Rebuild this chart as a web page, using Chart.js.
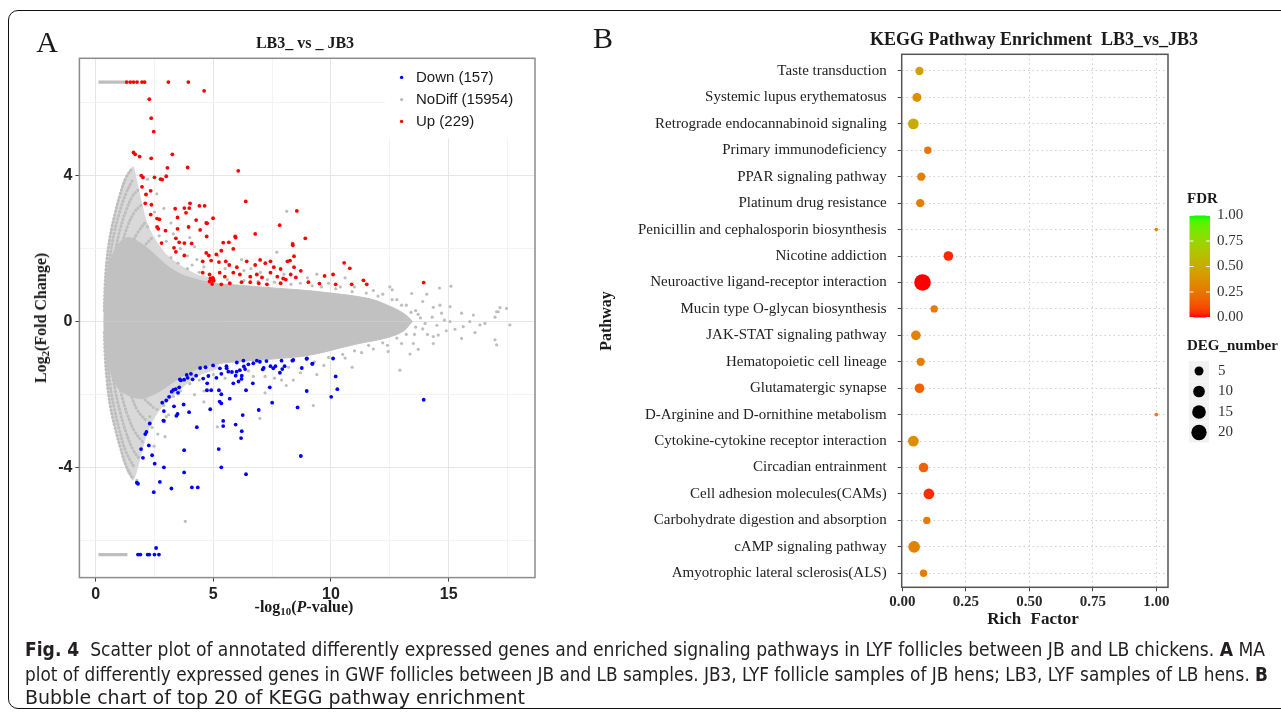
<!DOCTYPE html>
<html>
<head>
<meta charset="utf-8">
<script src="https://cdn.jsdelivr.net/npm/chart.js@4.4.1/dist/chart.umd.min.js"></script>
<style>
  body { margin: 0; background: #fff; }
  #page { position: relative; width: 1281px; height: 717px; overflow: hidden; font-family: "Liberation Serif", "Times New Roman", serif; color: #1a1a1a; }
  #frame { position: absolute; left: 8px; top: 10px; width: 1300px; height: 699px; border: 1px solid #111; border-radius: 10px; box-sizing: border-box; }
  canvas { position: absolute; }
  .lbl { position: absolute; white-space: nowrap; transform: translate(-50%, -50%); line-height: 1; }
  .rot { transform: translate(-50%, -50%) rotate(-90deg); }
  .b { font-weight: bold; }
  sub { font-size: 0.68em; vertical-align: -0.3em; line-height: 0; }
  .cap { position: absolute; left: 25px; white-space: nowrap; transform-origin: 0 50%; font-family: "Liberation Sans Narrow", "DejaVu Sans Condensed", "Liberation Sans", sans-serif; font-size: 20px; line-height: 22px; color: #231f20; }
</style>
</head>
<body>
<div id="page">
  <div id="frame"></div>
  <canvas id="chartA" width="545" height="640" style="left:0;top:0"></canvas>
  <canvas id="chartB" width="691" height="640" style="left:590px;top:0"></canvas>

  <div class="lbl" style="left:47px;top:42px;font-size:30px;">A</div>
  <div class="lbl b" style="left:305px;top:43px;font-size:16px;">LB3_ vs _ JB3</div>
  <div class="lbl b rot" style="left:41px;top:318px;font-size:16px;">Log<sub>2</sub>(Fold Change)</div>
  <div class="lbl b" style="left:304px;top:607px;font-size:16px;">-log<sub>10</sub>(<i>P</i>-value)</div>

  <div class="lbl" style="left:603px;top:38px;font-size:30px;">B</div>
  <div class="lbl b" style="left:1034px;top:39px;font-size:18px;">KEGG Pathway Enrichment&nbsp; LB3_vs_JB3</div>
  <div class="lbl b rot" style="left:606px;top:321px;font-size:16px;">Pathway</div>
  <div class="lbl b" style="left:1033px;top:618px;font-size:17px;word-spacing:5px;">Rich Factor</div>

  <div class="cap" id="cap1" style="top:638px;"><b>Fig. 4</b>&nbsp; Scatter plot of annotated differently expressed genes and enriched signaling pathways in LYF follicles between JB and LB chickens. <b>A</b> MA</div>
  <div class="cap" id="cap2" style="top:663px;">plot of differently expressed genes in GWF follicles between JB and LB samples. JB3, LYF follicle samples of JB hens; LB3, LYF samples of LB hens. <b>B</b></div>
  <div class="cap" id="cap3" style="top:686px;">Bubble chart of top 20 of KEGG pathway enrichment</div>
</div>

<script>
// ---------- panel A: volcano / MA plot data (x = -log10 P, y = log2 FC) ----------
const legendCounts = { down: 157, noDiff: 15954, up: 229 }

const upPts = [
  [1.32,6.56],[1.47,6.56],[1.61,6.56],[1.76,6.56],[1.97,6.56],[2.08,6.56],[3.09,6.56],[3.94,6.56],[4.61,6.32],
  [2.28,6.09],[2.36,5.57],[2.47,5.2],[1.61,4.63],[1.68,4.58],[1.87,4.52],[2.36,4.47],[3.26,4.58],[3.91,4.22],[3.05,4.21],
  [1.94,4.0],[2.01,3.95],[2.5,3.95],[2.76,3.9],[2.83,3.89],[3.0,3.98],[6.06,4.13],[1.97,3.69],[2.14,3.48],[2.34,3.58],
  [2.11,3.24],[2.37,3.2],[2.34,2.93],[6.38,3.29],[3.38,3.09],[3.77,3.11],[4.01,3.24],[3.98,3.11],[4.41,3.17],[4.63,3.17],[8.55,3.03],
  [2.61,2.82],[2.71,2.8],[3.48,2.85],[3.84,2.98],[4.27,2.78],[4.99,2.83],[2.61,2.59],[2.66,2.54],[2.97,2.49],[3.48,2.54],
  [3.95,2.59],[4.44,2.51],[4.7,2.7],[4.74,2.69],[4.72,2.33],[6.78,2.4],[7.82,2.64],[8.91,2.28],[5.93,2.33],[5.42,2.16],
  [2.8,2.15],[3.41,2.28],[3.55,2.17],[3.77,2.15],[4.08,2.14],[5.66,2.17],[5.95,2.3],[8.38,2.09],[8.37,2.13],
  [3.33,2.02],[3.41,1.91],[3.77,1.81],[4.7,1.88],[4.81,1.81],[5.13,1.84],[5.34,1.94],[5.85,1.99],[8.43,1.79],[8.15,1.65],
  [4.55,1.65],[4.91,1.67],[5.24,1.63],[5.53,1.65],[5.68,1.55],[6.0,1.49],[6.42,1.65],[6.78,1.55],[6.99,1.69],[7.21,1.6],
  [7.43,1.65],[7.57,1.49],[7.86,1.44],[8.26,1.67],[8.43,1.49],[8.72,1.39],[10.56,1.61],[10.8,1.46],
  [4.55,1.34],[4.84,1.29],[4.99,1.18],[5.27,1.34],[5.49,1.23],[5.85,1.34],[6.13,1.29],[6.57,1.23],[6.85,1.29],[7.07,1.21],
  [7.43,1.34],[7.72,1.23],[7.97,1.18],[8.29,1.29],[8.51,1.21],[4.84,1.1],[4.95,1.03],[5.34,1.02],[5.7,1.05],[6.2,1.08],
  [6.57,1.08],[6.93,1.05],[7.28,1.02],[7.86,1.05],[8.08,1.15],[9.04,1.08],[9.51,1.04],[9.73,1.25],[10.09,1.29],[10.2,1.02],
  [10.88,1.02],[11.38,1.13],[11.52,1.02],[13.94,1.07],[4.88,1.18],[4.92,1.14],[4.97,1.2],[5.02,1.12]
]

const downPts = [
  [1.8,-6.38],[1.9,-6.38],[2.21,-6.38],[2.28,-6.38],[2.5,-6.38],[2.69,-6.38],[2.57,-6.2],
  [1.8,-4.44],[1.75,-4.41],[2.47,-4.67],[2.73,-4.39],[3.22,-4.57],[4.09,-4.54],[4.34,-4.54],[3.76,-4.13],[6.39,-4.18],[8.72,-3.68],
  [2.9,-3.99],[2.51,-3.89],[2.01,-3.73],[2.4,-3.66],[2.26,-3.39],[1.93,-3.49],[2.11,-3.08],[2.16,-3.02],[2.3,-2.79],[2.9,-2.72],
  [3.76,-3.52],[4.3,-2.89],[5.23,-3.49],[5.34,-3.99],[5.42,-2.72],[5.42,-2.86],[5.95,-2.82],[6.25,-2.56],[6.21,-3.0],[6.18,-3.19],
  [6.93,-2.42],[8.58,-2.35],[13.94,-2.14],[10.01,-2.06],[10.2,-1.5],[10.27,-1.85],[10.09,-1.01],[8.97,-1.9],
  [2.83,-2.22],[3.0,-2.16],[3.12,-2.06],[3.33,-2.32],[3.48,-2.53],[3.43,-2.58],[3.97,-2.48],[3.74,-2.27],[2.88,-2.71],[2.9,-2.45],
  [3.4,-1.85],[3.55,-1.8],[3.5,-1.95],[3.62,-1.61],[3.76,-1.59],[3.91,-1.54],[4.05,-1.43],[4.27,-1.48],[3.23,-1.92],[3.3,-1.87],
  [4.44,-1.27],[4.67,-1.25],[4.99,-1.2],[4.74,-1.69],[4.73,-1.88],[4.91,-1.88],[5.24,-1.88],[5.34,-1.99],[4.57,-1.56],[4.79,-1.49],
  [4.87,-2.4],[5.27,-2.19],[5.34,-2.24],[5.13,-1.54],[5.34,-1.43],[5.56,-1.22],[5.79,-1.38],[5.28,-1.28],[5.57,-1.28],[5.64,-1.37],
  [5.7,-2.11],[5.85,-1.69],[5.95,-1.48],[6.0,-1.12],[6.28,-1.07],[6.49,-1.17],[6.3,-1.23],[6.35,-1.3],[5.99,-1.37],[6.13,-1.33],
  [6.07,-1.64],[6.21,-1.48],[6.39,-1.88],[6.68,-1.69],[6.85,-1.07],[7.14,-1.27],[7.43,-1.22],[7.64,-1.22],[7.93,-1.3],[6.2,-1.57],
  [7.4,-1.8],[7.5,-2.22],[7.83,-1.4],[8.03,-1.22],[8.36,-1.07],[8.76,-1.27],[8.98,-1.01],[9.22,-1.15],[6.7,-1.14],[6.98,-1.1],
  [7.26,-1.08],[7.55,-1.28],[7.9,-1.07],[8.4,-1.05],[8.96,-1.02],[9.2,-1.16],[3.58,-1.58],[3.87,-1.46],[4.12,-1.58],[7.1,-1.31]
]

// scattered grey genes outside the dense cloud
const grayPts = [
  [15.06,0.41],[15.55,0.23],[16.05,0.18],[16.33,-0.09],[16.54,-0.05],[16.97,0.12],[17.04,0.27],[17.46,0.36],[17.6,-0.09],[15.06,0.0],
  [15.27,-0.21],[15.55,-0.46],[16.12,-0.3],[16.97,-0.5],[17.04,-0.64],[14.35,-0.6],[13.36,-0.89],[12.43,-0.82],[12.93,-1.33],[13.71,-0.76],
  [14.35,-0.41],[14.56,-0.37],[13.5,-0.6],[15.1,0.97],[14.07,0.75],[13.43,0.77],[14.63,0.45],[14.7,0.23],[14.35,0.39],[14.82,0.04],
  [14.61,0.92],[12.6,0.87],[17.18,0.38],[17.11,0.27],[15.9,0.0],[15.62,-0.14],[13.6,0.3],[13.8,0.1],[13.9,-0.2],[14.1,-0.35],
  [14.3,0.12],[14.5,-0.1],[13.55,-0.35],[13.2,0.45],[13.9,0.55],[14.9,-0.25],[13.0,-0.6],[12.8,0.6],[13.7,0.2],[14.0,-0.05],
  [13.4,0.25],[13.6,-0.15],[6.6,1.45],[7.3,1.15],[9.4,1.3],[9.9,1.05],[10.4,0.95],[11.0,0.95],[11.8,0.85],[12.2,0.75],
  [10.6,1.2],[12.5,0.95],[9.2,0.98],[8.7,1.05],[8.12,3.02],[2.9,3.1],[2.2,3.9],[2.6,3.5],[4.0,2.3],[5.2,1.8],
  [6.2,1.7],[3.6,2.0],[4.3,1.7],[7.7,1.9],[9.7,-1.2],[10.6,-1.0],[11.3,-0.85],[11.8,-0.75],[12.4,-0.65],[10.9,-1.25],
  [9.4,-1.45],[8.4,-1.6],[7.6,-1.55],[9.25,-2.3],[6.98,-2.65],[5.17,-2.88],[2.95,-3.15],[2.64,-3.08],[3.81,-5.47],[7.2,-1.95],
  [8.1,-1.75],[4.2,-2.0],[4.6,-2.2],[3.0,-2.6],[2.4,-2.9],[2.48,-3.41],[1.75,-4.35],
  [3.2,1.75],[3.5,1.6],[3.9,1.45],[4.1,1.55],[4.4,1.35],[5.6,1.15],[6.3,1.12],[6.9,1.1],[7.6,1.08],[8.3,1.02],
  [9.6,0.95],[10.2,0.9],[10.9,0.82],[11.5,0.78],[12.0,0.7],[12.6,0.6],[13.0,0.45],[3.0,2.2],[3.3,2.4],[2.7,2.35],
  [3.9,1.8],[4.6,1.5],[5.5,1.45],[6.3,1.4],[7.0,1.35],[8.0,1.3],[9.0,1.2],[2.2,2.6],[2.5,3.0],[3.2,2.7],[4.2,2.05],
  [3.3,-2.05],[3.6,-1.9],[4.0,-1.7],[4.4,-1.6],[5.0,-1.45],[5.5,-1.55],[6.5,-1.35],[7.2,-1.5],[8.2,-1.25],[8.7,-1.4],
  [9.3,-1.1],[9.9,-0.98],[10.5,-0.9],[11.0,-0.8],[11.6,-0.65],[12.2,-0.58],[12.8,-0.45],[13.2,-0.35],[2.6,-2.4],[2.9,-2.3],
  [3.1,-2.55],[2.3,-2.6],[4.6,-1.9],[6.7,-1.5],[7.9,-1.6]
]

// genes capped at the top / bottom of the y range (grey run)
const capTop = [[0.12,6.56],[1.32,6.56]]
const capBottom = [[0.12,-6.38],[1.35,-6.38]]

// outline of the dense grey cloud (upper and lower edge)
const coreTop = [[0.35,0],[0.38,0.7],[0.5,1.3],[0.7,1.8],[1.0,2.15],[1.4,2.3],[1.9,2.15],[2.4,1.9],[3.0,1.55],[3.6,1.3],[4.3,1.15],[5.0,1.05],[6.0,1.0],[7.0,0.95],[8.0,0.9],[9.0,0.85],[10.0,0.78],[11.0,0.7],[11.8,0.6],[12.4,0.45],[12.9,0.3],[13.3,0.12],[13.45,0]]
const coreBottom = [[0.35,0],[0.38,-0.6],[0.5,-1.1],[0.7,-1.5],[1.0,-1.85],[1.5,-2.05],[2.0,-2.1],[2.6,-1.95],[3.2,-1.7],[3.8,-1.45],[4.5,-1.25],[5.2,-1.15],[6.0,-1.1],[7.0,-1.05],[8.0,-1.0],[8.8,-0.95],[9.6,-0.85],[10.4,-0.72],[11.2,-0.6],[12.0,-0.5],[12.6,-0.4],[13.1,-0.25],[13.45,0]]
// sparser wings at low -log10 P
const wingTop = [[0.36,0],[0.38,1.0],[0.45,1.7],[0.6,2.4],[0.8,3.0],[1.0,3.5],[1.2,3.9],[1.4,4.1],[1.6,4.25],[1.75,3.9],[1.95,3.3],[2.2,2.7],[2.5,2.3],[3.0,1.85],[3.6,1.55],[4.3,1.3],[5.0,1.15],[5.5,0]]
const wingBottom = [[0.36,0],[0.38,-0.9],[0.45,-1.6],[0.6,-2.3],[0.8,-2.9],[1.0,-3.4],[1.2,-3.9],[1.4,-4.2],[1.6,-4.35],[1.8,-4.0],[2.0,-3.5],[2.3,-2.9],[2.7,-2.45],[3.2,-2.1],[3.8,-1.75],[4.5,-1.45],[5.2,-1.25],[5.6,0]]
// the curved streaks of low-count genes
const streaks = [
  [[0.37,0.3],[0.4,1.0],[0.48,1.7],[0.62,2.35],[0.82,2.95],[1.05,3.5],[1.3,3.95],[1.55,4.2]],
  [[0.46,0.5],[0.51,1.15],[0.62,1.8],[0.8,2.45],[1.02,3.0],[1.28,3.5],[1.55,3.85]],
  [[0.6,0.6],[0.68,1.3],[0.84,1.95],[1.05,2.55],[1.3,3.05],[1.58,3.45],[1.8,3.6]],
  [[0.8,0.8],[0.9,1.45],[1.1,2.05],[1.35,2.6],[1.65,3.0],[1.95,3.2]],
  [[1.1,0.9],[1.25,1.5],[1.5,2.05],[1.8,2.45],[2.15,2.75]],
  [[1.5,1.0],[1.7,1.55],[2.0,2.0],[2.4,2.3]],
  [[0.37,-0.3],[0.4,-0.9],[0.48,-1.6],[0.62,-2.3],[0.82,-2.9],[1.05,-3.45],[1.3,-3.95],[1.58,-4.3]],
  [[0.46,-0.5],[0.51,-1.1],[0.62,-1.75],[0.8,-2.4],[1.02,-3.0],[1.28,-3.55],[1.6,-3.95]],
  [[0.6,-0.6],[0.68,-1.25],[0.84,-1.9],[1.05,-2.5],[1.3,-3.05],[1.58,-3.5],[1.85,-3.75]],
  [[0.8,-0.8],[0.9,-1.4],[1.1,-2.0],[1.35,-2.55],[1.65,-3.0],[2.0,-3.3]],
  [[1.1,-0.9],[1.25,-1.45],[1.5,-2.0],[1.8,-2.45],[2.2,-2.75]],
  [[1.5,-1.0],[1.7,-1.55],[2.0,-2.05],[2.45,-2.35]]
]

// ---------- panel B: KEGG enrichment (listed top to bottom) ----------
const pathways = ['Taste transduction','Systemic lupus erythematosus','Retrograde endocannabinoid signaling','Primary immunodeficiency',
  'PPAR signaling pathway','Platinum drug resistance','Penicillin and cephalosporin biosynthesis','Nicotine addiction',
  'Neuroactive ligand-receptor interaction','Mucin type O-glycan biosynthesis','JAK-STAT signaling pathway','Hematopoietic cell lineage',
  'Glutamatergic synapse','D-Arginine and D-ornithine metabolism','Cytokine-cytokine receptor interaction','Circadian entrainment',
  'Cell adhesion molecules(CAMs)','Carbohydrate digestion and absorption','cAMP signaling pathway','Amyotrophic lateral sclerosis(ALS)']
const richFactor = [0.067,0.057,0.043,0.100,0.074,0.070,1.000,0.181,0.079,0.125,0.053,0.072,0.067,1.000,0.043,0.083,0.104,0.096,0.046,0.083]
const degNumber = [4,5,8,3,4,4,1,6,24,3,6,4,6,1,8,6,8,3,10,3]
const fdr = [0.45,0.36,0.5,0.24,0.28,0.28,0.28,0.03,0.0,0.27,0.3,0.28,0.17,0.28,0.35,0.17,0.04,0.28,0.3,0.28]
const fdrBreaks = [0, 0.25, 0.5, 0.75, 1]
const degBreaks = [5, 10, 15, 20]

const upColor = '#ff0000', downColor = '#0000ff', grayColor = '#bebebe'
const serif = '"Liberation Serif", "Times New Roman", serif'
const sans = '"Liberation Sans", Arial, sans-serif'

const toXY = arr => arr.map(([x, y]) => ({ x, y }))

// red -> green in Lab space, like ggplot's gradient
function rgbToLab([r, g, b]) {
  const lin = c => { c /= 255; return c <= 0.04045 ? c / 12.92 : Math.pow((c + 0.055) / 1.055, 2.4) }
  const R = lin(r), G = lin(g), B = lin(b)
  const X = (0.4124564*R + 0.3575761*G + 0.1804375*B) / 0.95047
  const Y = 0.2126729*R + 0.7151522*G + 0.0721750*B
  const Z = (0.0193339*R + 0.1191920*G + 0.9503041*B) / 1.08883
  const f = t => t > 0.008856 ? Math.cbrt(t) : 7.787*t + 16/116
  return [116*f(Y) - 16, 500*(f(X) - f(Y)), 200*(f(Y) - f(Z))]
}
function labToRgb([L, a, b]) {
  const fy = (L + 16) / 116, fx = fy + a / 500, fz = fy - b / 200
  const inv = t => t*t*t > 0.008856 ? t*t*t : (t - 16/116) / 7.787
  const X = inv(fx)*0.95047, Y = inv(fy), Z = inv(fz)*1.08883
  const gam = c => { c = c <= 0.0031308 ? 12.92*c : 1.055*Math.pow(Math.max(c, 0), 1/2.4) - 0.055; return Math.round(Math.min(1, Math.max(0, c))*255) }
  const R = 3.2404542*X - 1.5371385*Y - 0.4985314*Z
  const G = -0.9692660*X + 1.8760108*Y + 0.0415560*Z
  const B = 0.0556434*X - 0.2040259*Y + 1.0572252*Z
  return `rgb(${gam(R)},${gam(G)},${gam(B)})`
}
const labLow = rgbToLab([255, 0, 0]), labHigh = rgbToLab([0, 255, 0])
const fdrColor = v => labToRgb(labLow.map((c, i) => c + (labHigh[i] - c) * v))
const bubbleRadius = n => 1.8 + 1.35 * Math.sqrt(n - 1)

Chart.defaults.font.family = sans

// ---------------- panel A ----------------
const isMajor = (v, step) => Math.abs(v % step) < 1e-9

const panelAExtras = {
  id: 'panelAExtras',
  afterDatasetsDraw(chart) {
    const { ctx, chartArea: a } = chart
    ctx.save()
    ctx.fillStyle = '#fff'
    ctx.fillRect(385, a.top, a.right - 385, 138.6 - a.top)
    const items = [[`Down (${legendCounts.down})`, downColor, 77.4], [`NoDiff (${legendCounts.noDiff})`, grayColor, 99.6], [`Up (${legendCounts.up})`, upColor, 121.4]]
    ctx.font = '15px ' + sans
    ctx.textBaseline = 'middle'
    items.forEach(([t, c, y]) => {
      ctx.fillStyle = c
      ctx.beginPath(); ctx.arc(401.6, y, 1.7, 0, Math.PI * 2); ctx.fill()
      ctx.fillStyle = '#1a1a1a'
      ctx.fillText(t, 416, y)
    })
    ctx.restore()
  },
  afterDraw(chart) {
    const { ctx, chartArea: a } = chart
    ctx.save()
    ctx.strokeStyle = '#8c8c8c'
    ctx.lineWidth = 1.5
    ctx.strokeRect(a.left, a.top, a.right - a.left, a.bottom - a.top)
    ctx.restore()
  }
}

const lineDs = (pts, extra) => Object.assign({ type: 'line', data: toXY(pts), pointRadius: 0, borderColor: grayColor, borderWidth: 0, fill: false, tension: 0.3 }, extra)

const chartA = new Chart(document.getElementById('chartA'), {
  type: 'scatter',
  data: {
    datasets: [
      { data: toXY(upPts), pointRadius: 1.9, pointBackgroundColor: upColor, pointBorderWidth: 0 },
      { data: toXY(downPts), pointRadius: 1.9, pointBackgroundColor: downColor, pointBorderWidth: 0 },
      { data: toXY(grayPts), pointRadius: 1.6, pointBackgroundColor: grayColor, pointBorderWidth: 0 },
      lineDs(capTop, { borderWidth: 3.2, tension: 0 }),
      lineDs(capBottom, { borderWidth: 3.2, tension: 0 }),
      lineDs(coreTop, { fill: 'origin', backgroundColor: '#c1c1c1', borderColor: '#c1c1c1', borderWidth: 1 }),
      lineDs(coreBottom, { fill: 'origin', backgroundColor: '#c1c1c1', borderColor: '#c1c1c1', borderWidth: 1 }),
      ...streaks.map(s => lineDs(s, { borderWidth: 3, borderDash: [0.5, 3.2], borderCapStyle: 'round', tension: 0.4 })),
      lineDs(wingTop, { fill: 'origin', backgroundColor: '#d9d9d9' }),
      lineDs(wingBottom, { fill: 'origin', backgroundColor: '#d9d9d9' })
    ]
  },
  options: {
    responsive: false, animation: false, events: [],
    layout: { padding: { top: 58.3, right: 10, left: 0, bottom: 0 } },
    plugins: { legend: { display: false }, tooltip: { enabled: false } },
    scales: {
      x: {
        type: 'linear', min: -0.69, max: 18.67,
        afterFit: s => { s.height = 62.4 },
        border: { display: false },
        grid: {
          color: c => isMajor(c.tick.value, 5) ? '#e6e6e6' : '#f3f3f3',
          tickColor: c => isMajor(c.tick.value, 5) ? '#444' : 'rgba(0,0,0,0)',
          tickLength: 4
        },
        ticks: { stepSize: 2.5, includeBounds: false, autoSkip: false, maxRotation: 0, padding: 3, color: '#222',
          font: { family: sans, size: 16, weight: 'bold' }, callback: v => isMajor(v, 5) ? String(v) : '' }
      },
      y: {
        type: 'linear', min: -7.01, max: 7.21,
        afterFit: s => { s.width = 79.4 },
        border: { display: false },
        grid: {
          color: c => isMajor(c.tick.value, 4) ? '#e6e6e6' : '#f3f3f3',
          tickColor: c => isMajor(c.tick.value, 4) ? '#444' : 'rgba(0,0,0,0)',
          tickLength: 4
        },
        ticks: { stepSize: 2, includeBounds: false, autoSkip: false, padding: 3, color: '#222',
          font: { family: sans, size: 16, weight: 'bold' }, callback: v => isMajor(v, 4) ? String(v) : '' }
      }
    }
  },
  plugins: [panelAExtras]
})

// ---------------- panel B ----------------
const panelBExtras = {
  id: 'panelBExtras',
  afterDraw(chart) {
    const { ctx, chartArea: a } = chart
    ctx.save()
    ctx.strokeStyle = '#555'
    ctx.lineWidth = 1.5
    ctx.strokeRect(a.left, a.top, a.right - a.left, a.bottom - a.top)

    // FDR colour bar
    const bx0 = 599.5, bx1 = 620, byTop = 215.5, byBot = 317.5
    const grad = ctx.createLinearGradient(0, byBot, 0, byTop)
    for (let i = 0; i <= 20; i++) grad.addColorStop(i / 20, fdrColor(i / 20))
    ctx.fillStyle = grad
    ctx.fillRect(bx0, byTop, bx1 - bx0, byBot - byTop)
    ctx.font = 'bold 15px ' + serif
    ctx.fillStyle = '#1a1a1a'
    ctx.textBaseline = 'middle'
    ctx.fillText('FDR', 597, 199)
    ctx.font = '15px ' + serif
    ctx.fillStyle = '#333'
    ctx.strokeStyle = '#fff'
    ctx.lineWidth = 1
    fdrBreaks.forEach(v => {
      const y = byBot - (byBot - byTop) * v
      ctx.beginPath()
      ctx.moveTo(bx0, y); ctx.lineTo(bx0 + 4, y)
      ctx.moveTo(bx1 - 4, y); ctx.lineTo(bx1, y)
      ctx.stroke()
      ctx.fillText(v.toFixed(2), 627, y)
    })

    // DEG_number size legend
    ctx.font = 'bold 15px ' + serif
    ctx.fillStyle = '#1a1a1a'
    ctx.fillText('DEG_number', 597, 346)
    const keyY = [371, 391.5, 412, 432.5]
    degBreaks.forEach((n, i) => {
      ctx.fillStyle = '#f2f2f2'
      ctx.fillRect(599, keyY[i] - 10, 20, 20)
      ctx.fillStyle = '#000'
      ctx.beginPath(); ctx.arc(609, keyY[i], bubbleRadius(n), 0, Math.PI * 2); ctx.fill()
      ctx.font = '15px ' + serif
      ctx.fillStyle = '#333'
      ctx.fillText(String(n), 628, keyY[i])
    })
    ctx.restore()
  }
}

const chartB = new Chart(document.getElementById('chartB'), {
  type: 'scatter',
  data: {
    datasets: [{
      data: richFactor.map((x, i) => ({ x, y: pathways.length - 1 - i })),
      pointRadius: c => bubbleRadius(degNumber[c.dataIndex]),
      pointBackgroundColor: c => fdrColor(fdr[c.dataIndex]),
      pointBorderWidth: 0
    }]
  },
  options: {
    responsive: false, animation: false, events: [],
    layout: { padding: { top: 54.3, right: 113, left: 0, bottom: 0 } },
    plugins: { legend: { display: false }, tooltip: { enabled: false } },
    scales: {
      x: {
        type: 'linear', min: -0.003, max: 1.046,
        afterFit: s => { s.height = 52.7 },
        border: { display: false, dash: [1.5, 3] },
        grid: { color: c => c.tick.value === 0 ? 'rgba(0,0,0,0)' : '#cfcfcf', tickColor: '#444', tickLength: 4 },
        ticks: { stepSize: 0.25, includeBounds: false, autoSkip: false, maxRotation: 0, padding: 2, color: '#2a2a2a',
          font: { family: serif, size: 15, weight: 'bold' }, callback: v => v.toFixed(2) }
      },
      y: {
        type: 'linear', min: -0.53, max: 19.63,
        afterFit: s => { s.width = 311.7 },
        border: { display: false, dash: [1.5, 3] },
        grid: { color: '#cfcfcf', tickColor: '#444', tickLength: 4 },
        ticks: { stepSize: 1, includeBounds: false, autoSkip: false, padding: 11, color: '#222',
          font: { family: serif, size: 15 }, callback: v => pathways[pathways.length - 1 - v] || '' }
      }
    }
  },
  plugins: [panelBExtras]
})

// squeeze the caption lines to the widths of the printed figure
const capWidths = { cap1: 1240, cap2: 1243, cap3: 500 }
Object.entries(capWidths).forEach(([id, w]) => {
  const el = document.getElementById(id)
  const cur = el.getBoundingClientRect().width
  el.style.transform = `scaleX(${w / cur})`
})
</script>
</body>
</html>
